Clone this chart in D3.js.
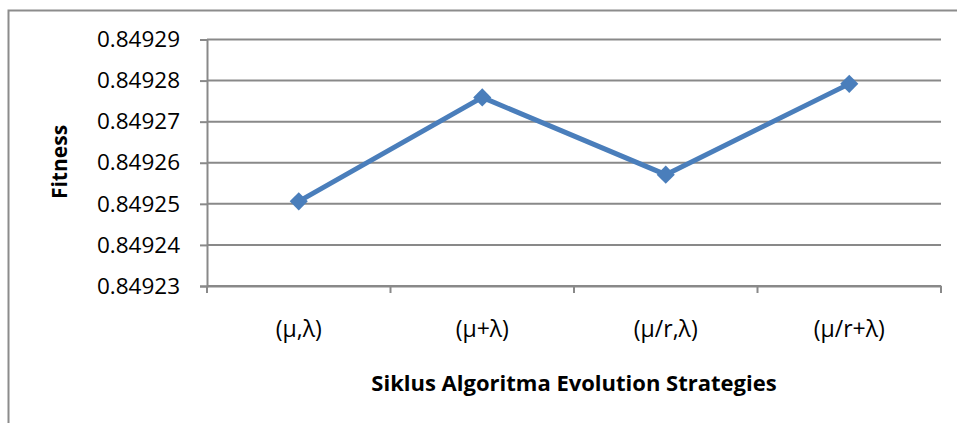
<!DOCTYPE html>
<html>
<head>
<meta charset="utf-8">
<script src="https://cdn.jsdelivr.net/npm/d3@7"></script>
<style>
  html, body { margin: 0; padding: 0; background: #fff; }
  svg { display: block; }
</style>
</head>
<body>
<svg id="chart" width="957" height="423"></svg>
<script>
const categories = ["(μ,λ)", "(μ+λ)", "(μ/r,λ)", "(μ/r+λ)"];
const fitnessValues = [0.8492506, 0.8492759, 0.8492571, 0.8492792];
const yTickValues = [0.84923, 0.84924, 0.84925, 0.84926, 0.84927, 0.84928, 0.84929];
const yTickLabels = ["0.84923", "0.84924", "0.84925", "0.84926", "0.84927", "0.84928", "0.84929"];
const xTitle = "Siklus Algoritma Evolution Strategies";
const yTitle = "Fitness";

const svg = d3.select("#chart");
const W = 957, H = 423;
const plot = { left: 207, right: 941, top: 39.5, bottom: 286 };
const gridColor = "#898989";
const lineColor = "#4A7EBB";
const font = "'Open Sans', sans-serif";

// outer chart border
svg.append("rect")
  .attr("x", 8.5).attr("y", 10.5)
  .attr("width", W).attr("height", H)
  .attr("fill", "#fff")
  .attr("stroke", "#8c8c8c").attr("stroke-width", 2);

const x = d3.scaleBand().domain(categories).range([plot.left, plot.right]).paddingInner(0).paddingOuter(0);
const y = d3.scaleLinear().domain([0.84923, 0.84929]).range([plot.bottom, plot.top]);

// horizontal gridlines
svg.append("g")
  .selectAll("line")
  .data(yTickValues)
  .join("line")
  .attr("x1", plot.left).attr("x2", plot.right)
  .attr("y1", d => y(d)).attr("y2", d => y(d))
  .attr("stroke", gridColor).attr("stroke-width", 2);

// y axis
const yAxis = svg.append("g")
  .attr("transform", `translate(${plot.left},0)`)
  .call(d3.axisLeft(y).tickValues(yTickValues).tickSize(7).tickPadding(20)
    .tickFormat((d, i) => yTickLabels[i]));
yAxis.select(".domain").attr("stroke", gridColor).attr("stroke-width", 2);
yAxis.selectAll(".tick line").attr("stroke", gridColor).attr("stroke-width", 2);
yAxis.selectAll(".tick text")
  .attr("fill", "#000")
  .style("font-family", font).style("font-size", "22.5px");

// x axis
const xAxis = svg.append("g")
  .attr("transform", `translate(0,${plot.bottom})`)
  .call(d3.axisBottom(x).tickSize(0).tickPadding(35));
xAxis.select(".domain").attr("stroke", gridColor).attr("stroke-width", 2);
xAxis.selectAll(".tick text")
  .attr("fill", "#000")
  .style("font-family", font).style("font-size", "23px");

// category boundary ticks
const bounds = categories.map(c => x(c)).concat([x(categories[categories.length - 1]) + x.bandwidth()]);
svg.append("g")
  .selectAll("line")
  .data(bounds)
  .join("line")
  .attr("x1", d => d).attr("x2", d => d)
  .attr("y1", plot.bottom).attr("y2", plot.bottom + 7)
  .attr("stroke", gridColor).attr("stroke-width", 2);

// axis titles
svg.append("text")
  .attr("x", 574).attr("y", 391)
  .attr("text-anchor", "middle")
  .style("font-family", font).style("font-size", "22px").style("font-weight", "bold")
  .text(xTitle);

svg.append("text")
  .attr("transform", `translate(67,162) rotate(-90)`)
  .attr("text-anchor", "middle")
  .style("font-family", font).style("font-size", "21px").style("font-weight", "bold")
  .text(yTitle);

// line series
const pts = categories.map((c, i) => [x(c) + x.bandwidth() / 2, y(fitnessValues[i])]);
svg.append("path")
  .datum(pts)
  .attr("d", d3.line())
  .attr("fill", "none")
  .attr("stroke", lineColor).attr("stroke-width", 5)
  .attr("stroke-linejoin", "round");

svg.append("g")
  .selectAll("path")
  .data(pts)
  .join("path")
  .attr("transform", d => `translate(${d[0]},${d[1]})`)
  .attr("d", d3.symbol().type(d3.symbolDiamond2).size(210))
  .attr("fill", lineColor);
</script>
</body>
</html>
